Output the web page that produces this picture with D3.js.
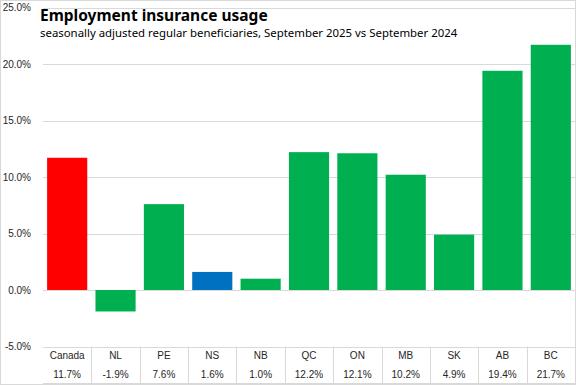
<!DOCTYPE html>
<html>
<head>
<meta charset="utf-8">
<script src="https://cdn.jsdelivr.net/npm/d3@7"></script>
<style>
  body { margin: 0; background: #fff; }
  .tick text, .tbl { font-family: "Liberation Sans", Arial, sans-serif; font-size: 10px; fill: #262626; }
  .title { font-family: "Noto Sans", sans-serif; font-weight: bold; font-size: 15.5px; fill: #000; }
  .subtitle { font-family: "Noto Sans", sans-serif; font-size: 11.4px; fill: #000; }
</style>
</head>
<body>
<script>
(function(){

    //chart data
    var regions = ["Canada", "NL", "PE", "NS", "NB", "QC", "ON", "MB", "SK", "AB", "BC"];
    var changes = [11.7, -1.9, 7.6, 1.6, 1.0, 12.2, 12.1, 10.2, 4.9, 19.4, 21.7];
    var barColors = ["#FF0000", "#00B050", "#00B050", "#0070C0", "#00B050", "#00B050", "#00B050", "#00B050", "#00B050", "#00B050", "#00B050"];
    var yTicks = [-5, 0, 5, 10, 15, 20, 25];

    var width = 576,
        height = 385,
        left = 43,
        right = 575,
        top = 7.5,
        bottom = 346.5;

    var svg = d3.select("body")
        .append("svg")
        .attr("width", width)
        .attr("height", height);

    //outer border
    svg.append("rect")
        .attr("x", 0.5).attr("y", 0.5)
        .attr("width", width - 1).attr("height", height - 1)
        .attr("fill", "none")
        .attr("stroke", "#d9d9d9");

    var x = d3.scaleBand()
        .domain(regions)
        .range([left, right])
        .paddingInner(0.17)
        .paddingOuter(0.085);

    var y = d3.scaleLinear()
        .domain([-5, 25])
        .range([bottom, top]);

    //gridlines
    svg.selectAll(".grid")
        .data(yTicks)
        .enter()
        .append("line")
        .attr("x1", left)
        .attr("x2", right)
        .attr("y1", function(d){ return Math.round(y(d)) + 0.5; })
        .attr("y2", function(d){ return Math.round(y(d)) + 0.5; })
        .attr("stroke", "#d9d9d9");

    //y axis labels
    var axis = svg.append("g")
        .attr("transform", "translate(" + (left - 12) + ",0)")
        .call(d3.axisLeft(y).tickValues(yTicks).tickSize(0).tickFormat(function(d){ return d.toFixed(1) + "%"; }));
    axis.select(".domain").remove();
    axis.selectAll(".tick text").attr("x", 0).attr("dy", "0.32em");

    //bars
    svg.selectAll(".bar")
        .data(regions)
        .enter()
        .append("rect")
        .attr("class", "bar")
        .attr("x", function(d){ return x(d); })
        .attr("width", x.bandwidth())
        .attr("y", function(d, i){ return y(Math.max(0, changes[i])); })
        .attr("height", function(d, i){ return Math.abs(y(changes[i]) - y(0)); })
        .attr("fill", function(d, i){ return barColors[i]; });

    //data table below the chart
    var step = x.step();
    var tableBottom = 383.5;
    svg.selectAll(".sep")
        .data(regions.slice(1))
        .enter()
        .append("line")
        .attr("x1", function(d){ return Math.round(x(d) - x.paddingInner() * step / 2) + 0.5; })
        .attr("x2", function(d){ return Math.round(x(d) - x.paddingInner() * step / 2) + 0.5; })
        .attr("y1", bottom)
        .attr("y2", tableBottom)
        .attr("stroke", "#d9d9d9");

    svg.append("line")
        .attr("x1", left).attr("x2", right)
        .attr("y1", tableBottom).attr("y2", tableBottom)
        .attr("stroke", "#d9d9d9");

    svg.selectAll(".name")
        .data(regions)
        .enter()
        .append("text")
        .attr("class", "tbl")
        .attr("text-anchor", "middle")
        .attr("x", function(d){ return x(d) + x.bandwidth() / 2; })
        .attr("y", 359)
        .text(function(d){ return d; });

    svg.selectAll(".val")
        .data(changes)
        .enter()
        .append("text")
        .attr("class", "tbl")
        .attr("text-anchor", "middle")
        .attr("x", function(d, i){ return x(regions[i]) + x.bandwidth() / 2; })
        .attr("y", 378)
        .text(function(d){ return d.toFixed(1) + "%"; });

    //titles
    svg.append("text")
        .attr("class", "title")
        .attr("x", 40).attr("y", 21)
        .text("Employment insurance usage");

    svg.append("text")
        .attr("class", "subtitle")
        .attr("x", 40).attr("y", 37)
        .text("seasonally adjusted regular beneficiaries, September 2025 vs September 2024");

})();
</script>
</body>
</html>
